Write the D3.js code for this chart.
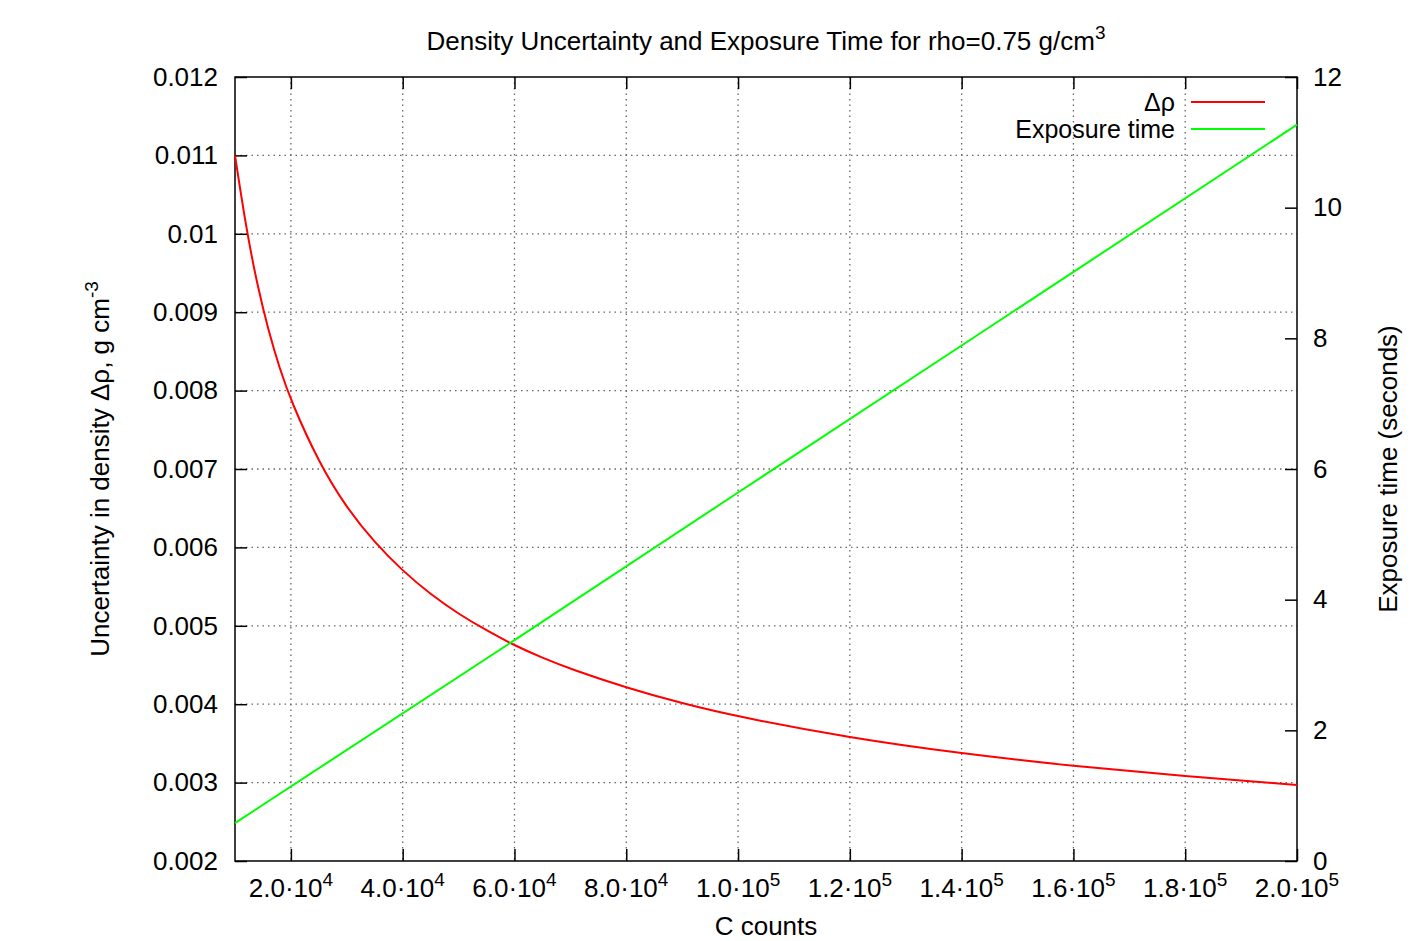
<!DOCTYPE html>
<html>
<head>
<meta charset="utf-8">
<script src="https://cdn.jsdelivr.net/npm/d3@7"></script>
<style>
  body { margin: 0; background: #fff; }
  svg { font-family: "Liberation Sans", Arial, sans-serif; }
</style>
</head>
<body>
<div id="chart"></div>
<script>
// C counts
const counts = [10000, 12000, 14000, 16000, 18000, 20000, 25000, 30000, 35000, 40000, 45000, 50000,
  55000, 60000, 65000, 70000, 80000, 90000, 100000, 120000, 140000, 160000, 180000, 200000];
// density uncertainty, g cm^-3
const deltaRho = [0.01100, 0.01007, 0.00934, 0.00876, 0.00828, 0.00787, 0.00708, 0.00650, 0.00606,
  0.00570, 0.00540, 0.00515, 0.00494, 0.00475, 0.00459, 0.00445, 0.00421, 0.00401, 0.00384,
  0.00357, 0.00337, 0.00321, 0.00308, 0.00297];
// exposure time, seconds
const expCounts = [10000, 60000, 100000, 140000, 200000];
const expTime = [0.58, 3.38, 5.64, 7.89, 11.27];

const xTicks = [20000, 40000, 60000, 80000, 100000, 120000, 140000, 160000, 180000, 200000];
const xTickMant = ['2.0', '4.0', '6.0', '8.0', '1.0', '1.2', '1.4', '1.6', '1.8', '2.0'];
const xTickExp = ['4', '4', '4', '4', '5', '5', '5', '5', '5', '5'];
const yTicks = [0.002, 0.003, 0.004, 0.005, 0.006, 0.007, 0.008, 0.009, 0.01, 0.011, 0.012];
const y2Ticks = [0, 2, 4, 6, 8, 10, 12];

const width = 1412;
const height = 941;
const margin = { top: 77, right: 115, bottom: 80, left: 235 };
const iw = width - margin.left - margin.right;
const ih = height - margin.top - margin.bottom;

const svg = d3.select('#chart').append('svg')
  .attr('width', width)
  .attr('height', height);

const g = svg.append('g').attr('transform', `translate(${margin.left},${margin.top})`);

const x = d3.scaleLinear().domain([10000, 200000]).range([0, iw]);
const y = d3.scaleLinear().domain([0.002, 0.012]).range([ih, 0]);
const y2 = d3.scaleLinear().domain([0, 12]).range([ih, 0]);

// grid
const grid = g.append('g')
  .attr('stroke', '#666')
  .attr('stroke-width', 1.3)
  .attr('stroke-dasharray', '1.5,4');
grid.selectAll('.gx').data(xTicks.slice(0, -1)).enter().append('line')
  .attr('x1', d => x(d)).attr('x2', d => x(d))
  .attr('y1', 0).attr('y2', ih);
grid.selectAll('.gy').data(yTicks.slice(1, -1)).enter().append('line')
  .attr('x1', 0).attr('x2', iw)
  .attr('y1', d => y(d)).attr('y2', d => y(d));

// axes (ticks pointing inward)
const styleAxis = sel => {
  sel.select('.domain').remove();
  sel.selectAll('line').attr('stroke', '#000').attr('stroke-width', 1.5);
  sel.selectAll('text').attr('fill', '#000').style('font-size', '26px');
};

g.append('g')
  .call(d3.axisLeft(y).tickValues(yTicks).tickSize(-12).tickPadding(17).tickFormat(d => String(d)))
  .call(styleAxis);

g.append('g')
  .attr('transform', `translate(${iw},0)`)
  .call(d3.axisRight(y2).tickValues(y2Ticks).tickSize(-12).tickPadding(16))
  .call(styleAxis);

g.append('g')
  .attr('transform', `translate(0,${ih})`)
  .call(d3.axisBottom(x).tickValues(xTicks).tickSize(-12).tickFormat(''))
  .call(styleAxis);

g.append('g')
  .call(d3.axisTop(x).tickValues(xTicks).tickSize(-12).tickFormat(''))
  .call(styleAxis);

// x tick labels with exponent
const xl = g.append('g').style('font-size', '26px').attr('text-anchor', 'middle');
xTicks.forEach((t, i) => {
  const txt = xl.append('text')
    .attr('x', x(t))
    .attr('y', ih + 36);
  txt.append('tspan').text(xTickMant[i] + '·10');
  txt.append('tspan').attr('dy', -11).style('font-size', '19px').text(xTickExp[i]);
});

// frame
g.append('rect')
  .attr('width', iw).attr('height', ih)
  .attr('fill', 'none')
  .attr('stroke', '#000')
  .attr('stroke-width', 1.5);

// lines
const rhoData = counts.map((c, i) => ({ c, v: deltaRho[i] }));
const expData = expCounts.map((c, i) => ({ c, v: expTime[i] }));

g.append('path')
  .datum(rhoData)
  .attr('fill', 'none')
  .attr('stroke', '#ff0000')
  .attr('stroke-width', 2)
  .attr('d', d3.line().x(d => x(d.c)).y(d => y(d.v)).curve(d3.curveBasis));

g.append('path')
  .datum(expData)
  .attr('fill', 'none')
  .attr('stroke', '#00ff00')
  .attr('stroke-width', 2)
  .attr('d', d3.line().x(d => x(d.c)).y(d => y2(d.v)));

// legend
const legend = g.append('g').style('font-size', '25px');
[['Δρ', '#ff0000'], ['Exposure time', '#00ff00']].forEach(([label, col], i) => {
  const ly = 25 + i * 27;
  legend.append('text')
    .attr('x', 940).attr('y', ly)
    .attr('dy', '0.35em')
    .attr('text-anchor', 'end')
    .text(label);
  legend.append('line')
    .attr('x1', 956).attr('x2', 1030)
    .attr('y1', ly).attr('y2', ly)
    .attr('stroke', col).attr('stroke-width', 2);
});

// title
const title = svg.append('text')
  .attr('x', margin.left + iw / 2)
  .attr('y', 50)
  .attr('text-anchor', 'middle')
  .style('font-size', '26px');
title.append('tspan').text('Density Uncertainty and Exposure Time for rho=0.75 g/cm');
title.append('tspan').attr('dy', -11).style('font-size', '19px').text('3');

// axis labels
svg.append('text')
  .attr('x', margin.left + iw / 2)
  .attr('y', 935)
  .attr('text-anchor', 'middle')
  .style('font-size', '26px')
  .text('C counts');

const yl = svg.append('text')
  .attr('transform', `translate(109,${margin.top + ih / 2}) rotate(-90)`)
  .attr('text-anchor', 'middle')
  .style('font-size', '26px');
yl.append('tspan').text('Uncertainty in density Δρ, g cm');
yl.append('tspan').attr('dy', -11).style('font-size', '19px').text('-3');

svg.append('text')
  .attr('transform', `translate(1397,${margin.top + ih / 2}) rotate(-90)`)
  .attr('text-anchor', 'middle')
  .style('font-size', '26px')
  .text('Exposure time (seconds)');
</script>
</body>
</html>
